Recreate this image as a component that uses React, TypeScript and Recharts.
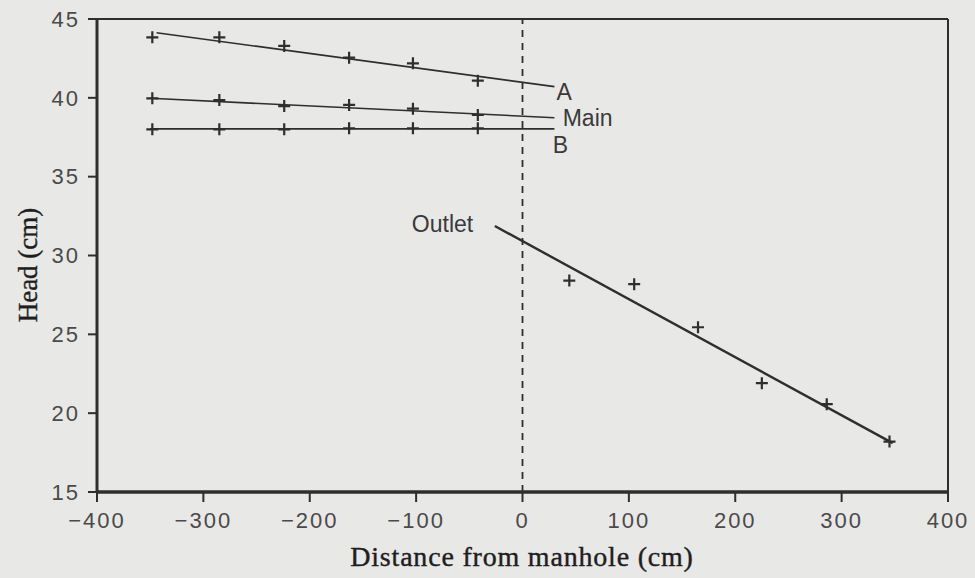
import {
  ComposedChart, Line, Scatter, XAxis, YAxis, ReferenceLine, Label,
} from 'recharts';

// axis ticks
const xTicks = [-400, -300, -200, -100, 0, 100, 200, 300, 400];
const yTicks = [15, 20, 25, 30, 35, 40, 45];

// measured heads (cm) upstream of the manhole
const distUp = [-348, -285, -224, -163, -103, -42];
const headA = [43.84, 43.84, 43.29, 42.55, 42.19, 41.09];
const headMain = [39.97, 39.86, 39.48, 39.55, 39.31, 38.91];
const headB = [38.0, 38.0, 38.0, 38.07, 38.07, 38.07];

// measured heads downstream (outlet pipe)
const distOutlet = [44, 105, 165, 225, 286, 345];
const headOutlet = [28.41, 28.18, 25.45, 21.9, 20.57, 18.2];

// fitted lines, end points
const fitA = { x: [-344, 30], y: [44.13, 40.71] };
const fitMain = { x: [-350, 30], y: [39.97, 38.74] };
const fitB = { x: [-350, 30], y: [38.03, 38.03] };
const fitOutlet = { x: [-26, 348], y: [31.87, 18.1] };

// series labels (left edge x, centre y in data units)
const labels = [
  { text: 'A', x: 32, y: 40.34 },
  { text: 'Main', x: 37.8, y: 38.75 },
  { text: 'B', x: 28.4, y: 37.01 },
  { text: 'Outlet', x: -104, y: 31.97 },
];

const INK = '#2e2e2e';
const TICK_FONT = { fontFamily: 'Liberation Sans', fontSize: 22, fill: '#4a4a4a', letterSpacing: 2 };

const pts = (xs: number[], ys: number[]) => xs.map((x, i) => ({ x, y: ys[i] }));

const Cross = (props: any) => {
  const { cx, cy } = props;
  return (
    <path
      d={`M${cx - 6},${cy}h12M${cx},${cy - 6}v12`}
      stroke={INK}
      strokeWidth={2.2}
      fill="none"
    />
  );
};

const TextMark = (props: any) => {
  const { cx, cy, payload } = props;
  return (
    <text
      x={cx}
      y={cy}
      dominantBaseline="central"
      fontFamily="Liberation Sans"
      fontSize={23}
      fill="#3a3a3a"
    >
      {payload.text}
    </text>
  );
};

const fmt = (v: number) => (v < 0 ? `\u2212${Math.abs(v)}` : `${v}`);

export default function App() {
  return (
    <div style={{ position: 'absolute', left: 0, top: 0, width: 975, height: 578, background: '#e8e8e6' }}>
      <ComposedChart width={975} height={578} margin={{ top: 19, right: 27, left: 0, bottom: 0 }}>
        <XAxis
          type="number"
          dataKey="x"
          domain={[-400, 400]}
          ticks={xTicks}
          tickFormatter={fmt}
          height={86}
          tick={TICK_FONT}
          tickSize={10}
          tickMargin={10}
          axisLine={{ stroke: INK, strokeWidth: 3.5 }}
          tickLine={{ stroke: INK, strokeWidth: 2 }}
          allowDataOverflow
        >
          <Label
            content={() => (
              <text
                x={522}
                y={556}
                textAnchor="middle"
                dominantBaseline="central"
                fontFamily="Liberation Serif"
                fontSize={28}
                letterSpacing={0.8}
                fill="#1e1e1e"
                stroke="#1e1e1e"
                strokeWidth={0.4}
              >
                Distance from manhole (cm)
              </text>
            )}
          />
        </XAxis>
        <YAxis
          type="number"
          domain={[15, 45]}
          ticks={yTicks}
          width={97}
          tick={TICK_FONT}
          tickSize={9}
          tickMargin={8}
          axisLine={{ stroke: INK, strokeWidth: 3 }}
          tickLine={{ stroke: INK, strokeWidth: 2 }}
          allowDataOverflow
        >
          <Label
            content={() => (
              <text
                transform="translate(28,265) rotate(-90)"
                textAnchor="middle"
                dominantBaseline="central"
                fontFamily="Liberation Serif"
                fontSize={27}
                fill="#1e1e1e"
                stroke="#1e1e1e"
                strokeWidth={0.4}
              >
                Head (cm)
              </text>
            )}
          />
        </YAxis>

        <ReferenceLine y={45} stroke={INK} strokeWidth={2} />
        <ReferenceLine x={400} stroke={INK} strokeWidth={2} />
        <ReferenceLine x={0} stroke={INK} strokeWidth={1.8} strokeDasharray="7 6" />

        <Line data={pts(fitA.x, fitA.y)} dataKey="y" stroke={INK} strokeWidth={1.6} dot={false} isAnimationActive={false} />
        <Line data={pts(fitMain.x, fitMain.y)} dataKey="y" stroke={INK} strokeWidth={1.6} dot={false} isAnimationActive={false} />
        <Line data={pts(fitB.x, fitB.y)} dataKey="y" stroke={INK} strokeWidth={1.6} dot={false} isAnimationActive={false} />
        <Line data={pts(fitOutlet.x, fitOutlet.y)} dataKey="y" stroke={INK} strokeWidth={2.4} dot={false} isAnimationActive={false} />

        <Scatter data={pts(distUp, headA)} dataKey="y" shape={Cross} isAnimationActive={false} />
        <Scatter data={pts(distUp, headMain)} dataKey="y" shape={Cross} isAnimationActive={false} />
        <Scatter data={pts(distUp, headB)} dataKey="y" shape={Cross} isAnimationActive={false} />
        <Scatter data={pts(distOutlet, headOutlet)} dataKey="y" shape={Cross} isAnimationActive={false} />

        <Scatter data={labels} dataKey="y" shape={TextMark} isAnimationActive={false} />
      </ComposedChart>
    </div>
  );
}
